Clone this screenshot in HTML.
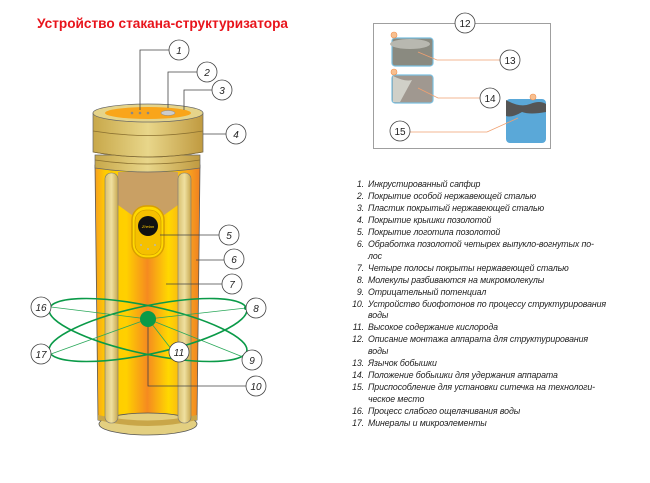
<!DOCTYPE html>
<html><head><meta charset="utf-8"><style>
html,body{margin:0;padding:0;background:#fff;width:650px;height:483px;overflow:hidden}
svg{position:absolute;left:0;top:0}
.list{position:absolute;left:340px;top:179px;width:268px;font-family:"Liberation Sans",sans-serif;font-style:italic;font-size:8.8px;line-height:11.95px;color:#222;letter-spacing:-0.1px}
.list div{position:relative;padding-left:28px;text-align:justify;text-align-last:left}
.list span{position:absolute;left:0;width:24px;text-align:right;text-align-last:right}
</style></head><body>
<svg width="650" height="483" viewBox="0 0 650 483" font-family="Liberation Sans, sans-serif">
<defs>
<linearGradient id="body" x1="0" x2="1">
<stop offset="0" stop-color="#f7a020"/><stop offset="0.1" stop-color="#ffcc00"/><stop offset="0.3" stop-color="#ffd000"/><stop offset="0.5" stop-color="#f58a20"/><stop offset="0.7" stop-color="#ffd800"/><stop offset="0.9" stop-color="#f7a020"/><stop offset="1" stop-color="#f08020"/>
</linearGradient>
<linearGradient id="gold" x1="0" x2="1">
<stop offset="0" stop-color="#c8a84a"/><stop offset="0.5" stop-color="#e8d68a"/><stop offset="1" stop-color="#c09a40"/>
</linearGradient>
<linearGradient id="strip" x1="0" x2="1">
<stop offset="0" stop-color="#d8c070"/><stop offset="0.5" stop-color="#efe0a0"/><stop offset="1" stop-color="#c8a850"/>
</linearGradient>
</defs>
<text x="37" y="28" font-size="13.7" font-weight="bold" fill="#e8141c" textLength="251" lengthAdjust="spacingAndGlyphs">Устройство стакана-структуризатора</text>
<path d="M95 165 L200 165 L197 420 Q148 432 98 420 Z" fill="url(#body)" stroke="#555" stroke-width="0.8"/>
<ellipse cx="148" cy="424" rx="49" ry="11" fill="#e3cf80" stroke="#555" stroke-width="0.8"/>
<path d="M98 420 Q148 432 197 420 L197 415 Q148 426 98 415Z" fill="#c9a648"/>
<path d="M118 172 L178 172 L178 205 L160 218 L136 218 L118 205Z" fill="#c9a064"/>
<rect x="105" y="173" width="13" height="250" rx="6" fill="url(#strip)" stroke="#777" stroke-width="0.6"/>
<rect x="178" y="173" width="13" height="250" rx="6" fill="url(#strip)" stroke="#777" stroke-width="0.6"/>
<path d="M95 155 L200 155 L200 168 Q148 176 95 168Z" fill="url(#gold)" stroke="#666" stroke-width="0.7"/>
<path d="M93 113 L203 113 L203 152 Q148 162 93 152Z" fill="url(#gold)" stroke="#666" stroke-width="0.7"/>
<path d="M93 131 Q148 140 203 131" fill="none" stroke="#8a7030" stroke-width="0.8"/>
<path d="M93 152 Q148 162 203 152 M95 160 Q148 168 200 160" fill="none" stroke="#8a7030" stroke-width="0.8"/>
<ellipse cx="148" cy="113" rx="55" ry="9" fill="#e5d48a" stroke="#666" stroke-width="0.7"/>
<ellipse cx="148" cy="113" rx="43" ry="6" fill="#f9a51a"/>
<circle cx="132" cy="113" r="1.3" fill="#888"/><circle cx="140" cy="113" r="1.3" fill="#888"/><circle cx="148" cy="113" r="1.3" fill="#888"/>
<ellipse cx="168" cy="113" rx="7" ry="2.5" fill="#ccc" stroke="#888" stroke-width="0.5"/>
<rect x="132" y="206" width="32" height="52" rx="14" fill="#ffd800" stroke="#d8a000" stroke-width="1.5"/>
<rect x="135" y="210" width="26" height="45" rx="11" fill="#f5c000" stroke="#c89000" stroke-width="0.6"/>
<circle cx="148" cy="226" r="10" fill="#111"/>
<text x="148" y="228" font-size="4" fill="#ffcc00" text-anchor="middle" font-style="italic">Zhelan</text>
<circle cx="141" cy="245" r="1" fill="#bba"/><circle cx="155" cy="245" r="1" fill="#bba"/><circle cx="148" cy="249" r="1" fill="#bba"/>
<g fill="none" stroke="#444" stroke-width="0.8">
<polyline points="140,110 140,50 169,50"/>
<polyline points="168,108 168,72 197,72"/>
<polyline points="184,110 184,90 212,90"/>
<line x1="203" y1="134" x2="226" y2="134"/>
<line x1="160" y1="235" x2="219" y2="235"/>
<line x1="196" y1="260" x2="224" y2="260"/>
<line x1="166" y1="284" x2="222" y2="284"/>
<polyline points="148,325 148,386 246,386"/>
</g>
<g fill="none" stroke="#0a9a48" stroke-width="1.6">
<ellipse cx="148" cy="330" rx="101" ry="24" transform="rotate(12 148 330)"/>
<ellipse cx="148" cy="330" rx="101" ry="24" transform="rotate(-12 148 330)"/>
</g>
<g stroke="#2aa85a" stroke-width="0.8">
<line x1="148" y1="319" x2="51" y2="307"/><line x1="148" y1="319" x2="51" y2="354"/>
<line x1="148" y1="319" x2="246" y2="308"/><line x1="148" y1="319" x2="243" y2="357"/>
<line x1="148" y1="319" x2="172" y2="350"/>
</g>
<circle cx="148" cy="319" r="8" fill="#0a9a48"/>
<circle cx="246" cy="308" r="2" fill="#0a9a48"/>
<g fill="#fff" stroke="#444" stroke-width="0.8">
<circle cx="179" cy="50" r="10"/><circle cx="207" cy="72" r="10"/><circle cx="222" cy="90" r="10"/>
<circle cx="236" cy="134" r="10"/><circle cx="229" cy="235" r="10"/><circle cx="234" cy="259" r="10"/>
<circle cx="232" cy="284" r="10"/><circle cx="256" cy="308" r="10"/><circle cx="252" cy="360" r="10"/>
<circle cx="256" cy="386" r="10"/><circle cx="179" cy="352" r="10"/><circle cx="41" cy="307" r="10"/><circle cx="41" cy="354" r="10"/>
</g>
<g font-size="10" font-style="italic" fill="#222" text-anchor="middle">
<text x="179" y="54">1</text><text x="207" y="76">2</text><text x="222" y="94">3</text><text x="236" y="138">4</text>
<text x="229" y="239">5</text><text x="234" y="263">6</text><text x="232" y="288">7</text><text x="256" y="312">8</text>
<text x="252" y="364">9</text><text x="256" y="390">10</text><text x="179" y="356">11</text><text x="41" y="311">16</text><text x="41" y="358">17</text>
</g>
<rect x="373.5" y="23.5" width="177" height="125" fill="#fff" stroke="#888" stroke-width="0.8"/>
<rect x="392" y="38" width="41" height="28" rx="3" fill="#8a8a80" stroke="#7cc0e0" stroke-width="1.2"/>
<ellipse cx="410" cy="44" rx="20" ry="5" fill="#b8b8b0"/>
<rect x="392" y="75" width="41" height="28" rx="3" fill="#a09890" stroke="#7cc0e0" stroke-width="1.2"/>
<path d="M393 76 Q405 82 412 80 L400 102 L393 102Z" fill="#d0d0c8"/>
<rect x="506" y="99" width="40" height="44" rx="4" fill="#5aa8d8"/>
<path d="M506 100 Q520 108 530 104 Q540 100 546 104 L546 112 Q530 115 522 112 Q512 118 506 116Z" fill="#555"/>
<circle cx="394" cy="35" r="3" fill="#f8c090" stroke="#f09050" stroke-width="0.6"/>
<circle cx="394" cy="72" r="3" fill="#f8c090" stroke="#f09050" stroke-width="0.6"/>
<circle cx="533" cy="97" r="3" fill="#f8c090" stroke="#f09050" stroke-width="0.6"/>
<g fill="none" stroke="#f0a070" stroke-width="0.8">
<polyline points="418,52 437,60 500,60"/>
<polyline points="418,88 438,98 480,98"/>
<polyline points="410,132 487,132 518,118"/>
</g>
<g fill="#fff" stroke="#444" stroke-width="0.8">
<circle cx="465" cy="23" r="10"/><circle cx="510" cy="60" r="10"/><circle cx="490" cy="98" r="10"/><circle cx="400" cy="131" r="10"/>
</g>
<g font-size="10" fill="#222" text-anchor="middle">
<text x="465" y="27">12</text><text x="510" y="64">13</text><text x="490" y="102">14</text><text x="400" y="135">15</text>
</g>
</svg>
<div class="list">
<div><span>1.</span>Инкрустированный сапфир</div>
<div><span>2.</span>Покрытие особой нержавеющей сталью</div>
<div><span>3.</span>Пластик покрытый нержавеющей сталью</div>
<div><span>4.</span>Покрытие крышки позолотой</div>
<div><span>5.</span>Покрытие логотипа позолотой</div>
<div><span>6.</span>Обработка позолотой четырех выпукло-вогнутых по-<br>лос</div>
<div><span>7.</span>Четыре полосы покрыты нержавеющей сталью</div>
<div><span>8.</span>Молекулы разбиваются на микромолекулы</div>
<div><span>9.</span>Отрицательный потенциал</div>
<div><span>10.</span>Устройство биофотонов по процессу структурирования<br>воды</div>
<div><span>11.</span>Высокое содержание кислорода</div>
<div><span>12.</span>Описание монтажа аппарата для структурирования<br>воды</div>
<div><span>13.</span>Язычок бобышки</div>
<div><span>14.</span>Положение бобышки для удержания аппарата</div>
<div><span>15.</span>Приспособление для установки ситечка на технологи-<br>ческое место</div>
<div><span>16.</span>Процесс слабого ощелачивания воды</div>
<div><span>17.</span>Минералы и микроэлементы</div>
</div>
</body></html>
